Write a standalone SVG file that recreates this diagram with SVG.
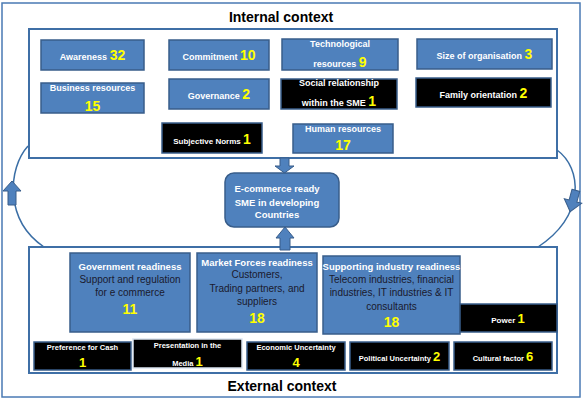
<svg xmlns="http://www.w3.org/2000/svg" width="583" height="400" viewBox="0 0 583 400">
<style>
.frame{fill:#fff;stroke:#3f6fa6;stroke-width:2}
.outer{fill:#fff;stroke:#4a7ab4;stroke-width:1.5}
.bb{fill:#4f81bd;stroke:#385d8a;stroke-width:1.5}
.kb{fill:#000;stroke:#385d8a;stroke-width:1.5}
.arr{fill:#4f81bd;stroke:#385d8a;stroke-width:1}
.arc{fill:none;stroke:#3a6ea5;stroke-width:1.5}
text{font-family:"Liberation Sans",Arial,sans-serif;text-anchor:middle}
.w{fill:#fff;font-weight:bold;font-size:9px}
.ws{fill:#fff;font-weight:bold;font-size:7.5px}
.n{fill:#ffff00;font-weight:bold;font-size:14px}
.ns{fill:#ffff00;font-weight:bold;font-size:13px}
.d{fill:#1a1a2e;font-size:10px}
.t{fill:#000;font-weight:bold;font-size:14px}
</style>
<rect class="outer" x="2" y="3" width="578" height="394"/>
<text class="t" x="281" y="22">Internal context</text>
<rect id="internal-box" class="frame" x="29" y="29" width="528" height="129"/>
<rect id="external-box" class="frame" x="29" y="247" width="528" height="126"/>
<text class="t" x="282" y="391">External context</text>

<g id="connectors">
<path class="arc" d="M28,146 C8,168 4,220 44,247"/>
<path class="arc" d="M557,150 C582,168 586,215 538,247"/>
<polygon class="arr" points="12,181 21,191 16,191 16,205 8,205 8,191 3,191"/>
<polygon class="arr" transform="translate(573,201) rotate(15)" points="-4,-11 4,-11 4,0 9,0 0,11 -9,0 -4,0"/>
<polygon class="arr" points="280,158 289,158 289,166 294,166 284.5,173 275,166 280,166"/>
<polygon class="arr" points="285,227 294,238 290,238 290,250 280,250 280,238 276,238"/>
</g>

<g id="awareness"><rect class="bb" x="41" y="40" width="103" height="30"/><text x="92.5" y="60"><tspan class="w">Awareness </tspan><tspan class="n">32</tspan></text></g>
<g id="commitment"><rect class="bb" x="169" y="40" width="100" height="30"/><text x="219" y="60"><tspan class="w">Commitment </tspan><tspan class="n">10</tspan></text></g>
<g id="technological"><rect class="bb" x="282" y="39" width="116" height="31"/><text class="w" x="340" y="47">Technological</text><text x="340" y="67"><tspan class="w">resources </tspan><tspan class="n">9</tspan></text></g>
<g id="size"><rect class="bb" x="417" y="39" width="135" height="30"/><text x="484.5" y="59"><tspan class="w">Size of organisation </tspan><tspan class="n">3</tspan></text></g>
<g id="business"><rect class="bb" x="41" y="83" width="103" height="30"/><text class="w" x="92.5" y="91">Business resources</text><text class="n" x="92.5" y="111">15</text></g>
<g id="governance"><rect class="bb" x="169" y="79" width="100" height="30"/><text x="219" y="99"><tspan class="w">Governance  </tspan><tspan class="n">2</tspan></text></g>
<g id="social"><rect class="kb" x="281" y="79" width="116" height="30"/><text class="w" x="339" y="86">Social relationship</text><text x="339" y="106"><tspan class="w">within the  SME </tspan><tspan class="n">1</tspan></text></g>
<g id="family"><rect class="kb" x="416" y="78" width="135" height="29"/><text x="483.5" y="98"><tspan class="w">Family orientation  </tspan><tspan class="n">2</tspan></text></g>
<g id="subjective"><rect class="kb" x="162" y="123" width="100" height="30"/><text x="212" y="144"><tspan class="w" style="font-size:8px">Subjective Norms </tspan><tspan class="n">1</tspan></text></g>
<g id="human"><rect class="bb" x="293" y="124" width="100" height="29"/><text class="w" x="343" y="132">Human resources</text><text class="n" x="343" y="150">17</text></g>

<g id="ecommerce"><rect class="bb" x="225" y="173" width="114" height="54" rx="9"/><text class="w" style="font-size:9.5px" x="277" y="192">E-commerce ready</text><text class="w" style="font-size:9.5px" x="277" y="206">SME in developing</text><text class="w" style="font-size:9.5px" x="277" y="218">Countries</text></g>

<g id="government"><rect class="bb" x="70" y="253" width="120" height="79"/><text class="w" style="font-size:9.5px" x="130" y="269.5">Government readiness</text><text class="d" x="130" y="282.5">Support and regulation</text><text class="d" x="130" y="295.5">for e commerce</text><text class="n" x="130" y="314">11</text></g>
<g id="market"><rect class="bb" x="197" y="253" width="120" height="79"/><text class="w" style="font-size:9.5px" x="257" y="265.5">Market Forces readiness</text><text class="d" x="257" y="277.5">Customers,</text><text class="d" x="257" y="291.5">Trading partners, and</text><text class="d" x="257" y="304.5">suppliers</text><text class="n" x="257" y="323">18</text></g>
<g id="supporting"><rect class="bb" x="323" y="256" width="137" height="78"/><text class="w" style="font-size:9.5px" x="391.5" y="269.5">Supporting industry readiness</text><text class="d" x="391.5" y="282.5">Telecom industries, financial</text><text class="d" x="391.5" y="295.5">industries, IT industries &amp; IT</text><text class="d" x="391.5" y="309.5">consultants</text><text class="n" x="391.5" y="327">18</text></g>
<g id="power"><rect class="kb" x="460" y="304" width="97" height="28"/><text x="508" y="323"><tspan class="ws" style="font-size:8px">Power </tspan><tspan class="ns">1</tspan></text></g>

<g id="cash"><rect class="kb" x="34" y="342" width="97" height="28"/><text class="ws" x="82.5" y="349.5">Preference for Cash</text><text class="ns" x="82.5" y="367">1</text></g>
<g id="media"><rect class="kb" x="133" y="339" width="109" height="29" style="stroke:#dbe5f1"/><text class="ws" x="187.5" y="347.5">Presentation in the</text><text x="187.5" y="366"><tspan class="ws">Media </tspan><tspan class="ns">1</tspan></text></g>
<g id="economic"><rect class="kb" x="247" y="342" width="98" height="28"/><text class="ws" x="296" y="349.5">Economic Uncertainty</text><text class="ns" x="296" y="367">4</text></g>
<g id="political"><rect class="kb" x="350" y="342" width="99" height="28"/><text x="399.5" y="361"><tspan class="ws">Political Uncertainty </tspan><tspan class="ns">2</tspan></text></g>
<g id="cultural"><rect class="kb" x="454" y="342" width="98" height="28"/><text x="503" y="361"><tspan class="ws">Cultural factor </tspan><tspan class="ns">6</tspan></text></g>
</svg>
